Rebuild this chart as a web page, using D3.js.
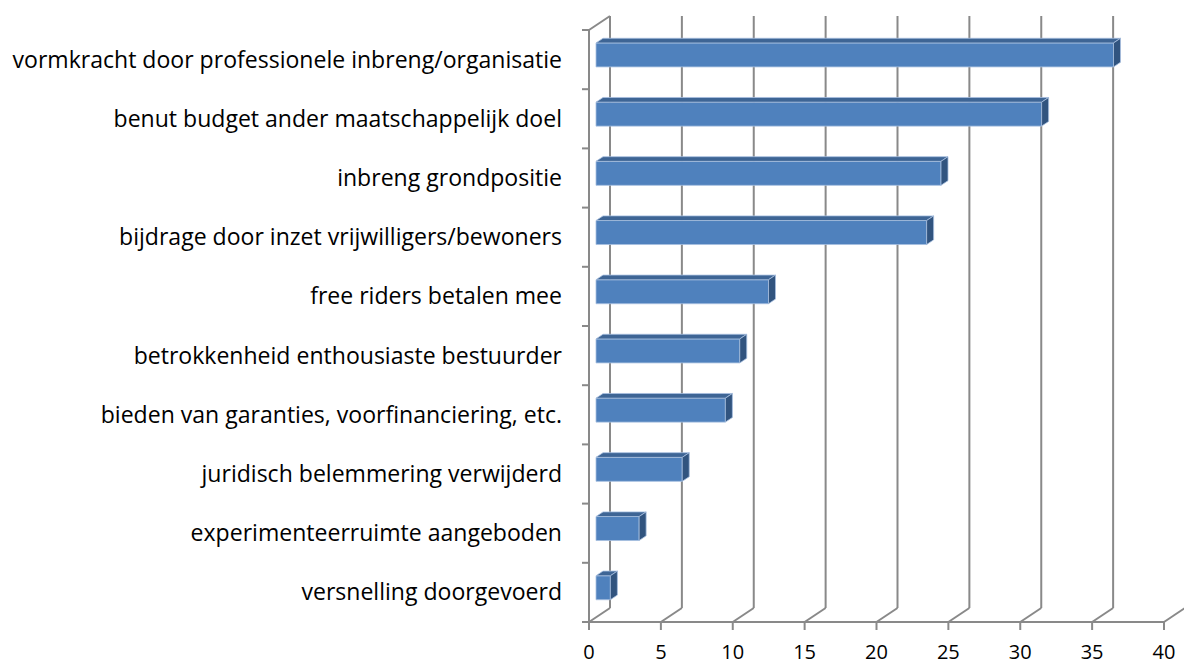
<!DOCTYPE html>
<html>
<head>
<meta charset="utf-8">
<script src="https://cdn.jsdelivr.net/npm/d3@7"></script>
<style>
html,body{margin:0;padding:0;background:#fff;}
svg{display:block;}
</style>
</head>
<body>
<svg id="chart" width="1184" height="666"></svg>
<script>
const categories = [
  "vormkracht door professionele inbreng/organisatie",
  "benut budget ander maatschappelijk doel",
  "inbreng grondpositie",
  "bijdrage door inzet vrijwilligers/bewoners",
  "free riders betalen mee",
  "betrokkenheid enthousiaste bestuurder",
  "bieden van garanties, voorfinanciering, etc.",
  "juridisch belemmering verwijderd",
  "experimenteerruimte aangeboden",
  "versnelling doorgevoerd"
];
const values = [36, 31, 24, 23, 12, 10, 9, 6, 3, 1];
const xTicks = [0, 5, 10, 15, 20, 25, 30, 35, 40];

const svg = d3.select("#chart");
const FONT = "'Open Sans', 'Noto Sans', sans-serif";

// 3D geometry
const DX = 21, DY = -14;          // full depth offset
const x = d3.scaleLinear().domain([0, 40]).range([589, 1164]);
const y = d3.scaleBand().domain(categories).range([30, 622]).padding(0);
const barFrac = 0.405;
const dF = 1/3, dB = 2/3;         // bar front/back depth fractions

const grid = svg.append("g").attr("stroke", "#898989").attr("stroke-width", 2).attr("fill", "none");
const yTop = 30, yBot = 622;

// back wall gridlines
xTicks.forEach(t => {
  grid.append("line")
    .attr("x1", x(t) + DX).attr("y1", yTop + DY)
    .attr("x2", x(t) + DX).attr("y2", yBot + DY);
  // floor diagonals
  grid.append("line")
    .attr("x1", x(t)).attr("y1", yBot)
    .attr("x2", x(t) + DX).attr("y2", yBot + DY);
  // tick marks below
  grid.append("line")
    .attr("x1", x(t)).attr("y1", yBot)
    .attr("x2", x(t)).attr("y2", yBot + 8);
});
// front floor line
grid.append("line").attr("x1", x(0)).attr("y1", yBot).attr("x2", x(40)).attr("y2", yBot);
// left wall front edge
grid.append("line").attr("x1", x(0)).attr("y1", yTop).attr("x2", x(0)).attr("y2", yBot);
// left wall top diagonal
grid.append("line").attr("x1", x(0)).attr("y1", yTop).attr("x2", x(0) + DX).attr("y2", yTop + DY);
// left category ticks
d3.range(categories.length + 1).forEach(i => {
  const yy = yTop + i * y.step();
  grid.append("line").attr("x1", x(0) - 7).attr("y1", yy).attr("x2", x(0)).attr("y2", yy);
});

// bars
const bars = svg.append("g");
categories.forEach((c, i) => {
  const v = values[i];
  const h = y.bandwidth() * barFrac;
  const cy = y(c) + y.bandwidth() / 2 + DY * dF;
  const x0 = x(0) + DX * dF, x1 = x(v) + DX * dF;
  const yt = cy - h / 2, yb = cy + h / 2;
  const ddx = DX * (dB - dF), ddy = DY * (dB - dF);
  const g = bars.append("g").attr("stroke", "#a7bfdf").attr("stroke-width", 0.8).attr("stroke-linejoin", "round");
  g.append("rect").attr("x", x0).attr("y", yt).attr("width", x1 - x0).attr("height", h).attr("fill", "#4f81bd");
  g.append("polygon")
    .attr("points", [[x0, yt], [x1, yt], [x1 + ddx, yt + ddy], [x0 + ddx, yt + ddy]].map(p => p.join(",")).join(" "))
    .attr("fill", "#3e6595");
  g.append("polygon")
    .attr("points", [[x1, yt], [x1 + ddx, yt + ddy], [x1 + ddx, yb + ddy], [x1, yb]].map(p => p.join(",")).join(" "))
    .attr("fill", "#31547f");
});

// category labels
const labels = svg.append("g").attr("font-family", FONT).attr("fill", "#000").attr("text-anchor", "end");
const lt = labels.selectAll("text").data(categories).enter().append("text")
  .attr("x", 562)
  .attr("y", d => y(d) + y.bandwidth() / 2)
  .attr("dy", "0.35em")
  .attr("font-size", 20)
  .text(d => d);
// fit font size so the longest label spans ~550px
let maxW = 0;
lt.each(function () { maxW = Math.max(maxW, this.getComputedTextLength()); });
const fs = 20 * 550 / maxW;
lt.attr("font-size", fs);

// x tick labels
svg.append("g").attr("font-family", FONT).attr("text-anchor", "middle").attr("font-size", 20)
  .selectAll("text").data(xTicks).enter().append("text")
  .attr("x", d => x(d)).attr("y", 659).text(d => d);
</script>
</body>
</html>
